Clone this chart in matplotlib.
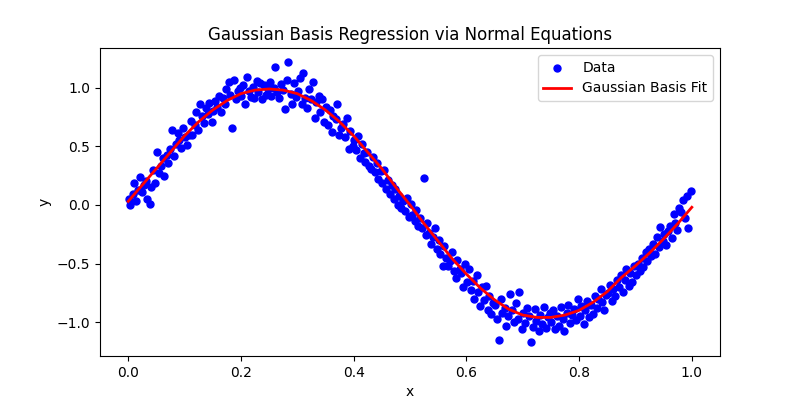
import numpy as np
import matplotlib
matplotlib.use("Agg")
import matplotlib.pyplot as plt

# noisy samples
x_data = [0.002, 0.004, 0.008, 0.011, 0.014, 0.018, 0.021, 0.025, 0.028, 0.031, 0.034, 0.038,
          0.041, 0.044, 0.048, 0.051, 0.054, 0.058, 0.061, 0.064, 0.068, 0.071, 0.074, 0.078,
          0.081, 0.084, 0.088, 0.091, 0.094, 0.098, 0.101, 0.104, 0.108, 0.111, 0.114, 0.118,
          0.121, 0.124, 0.128, 0.131, 0.134, 0.138, 0.141, 0.144, 0.148, 0.151, 0.154, 0.158,
          0.161, 0.164, 0.168, 0.171, 0.174, 0.178, 0.181, 0.184, 0.188, 0.191, 0.194, 0.198,
          0.201, 0.204, 0.208, 0.211, 0.214, 0.218, 0.221, 0.224, 0.228, 0.231, 0.234, 0.238,
          0.241, 0.244, 0.248, 0.251, 0.254, 0.258, 0.261, 0.264, 0.268, 0.271, 0.274, 0.278,
          0.281, 0.284, 0.288, 0.291, 0.294, 0.298, 0.301, 0.304, 0.308, 0.311, 0.314, 0.318,
          0.321, 0.324, 0.328, 0.331, 0.334, 0.338, 0.341, 0.344, 0.348, 0.351, 0.354, 0.358,
          0.361, 0.364, 0.368, 0.371, 0.374, 0.378, 0.381, 0.384, 0.388, 0.391, 0.394, 0.398,
          0.401, 0.404, 0.408, 0.411, 0.414, 0.418, 0.421, 0.424, 0.428, 0.431, 0.434, 0.438,
          0.441, 0.444, 0.448, 0.451, 0.454, 0.458, 0.461, 0.464, 0.468, 0.471, 0.474, 0.478,
          0.481, 0.484, 0.488, 0.491, 0.494, 0.498, 0.501, 0.504, 0.508, 0.511, 0.514, 0.518,
          0.521, 0.524, 0.528, 0.531, 0.534, 0.538, 0.541, 0.544, 0.548, 0.551, 0.554, 0.558,
          0.561, 0.564, 0.568, 0.571, 0.574, 0.578, 0.581, 0.584, 0.588, 0.591, 0.594, 0.598,
          0.601, 0.604, 0.608, 0.611, 0.614, 0.618, 0.621, 0.624, 0.628, 0.631, 0.634, 0.638,
          0.641, 0.644, 0.648, 0.651, 0.654, 0.658, 0.661, 0.664, 0.668, 0.671, 0.674, 0.678,
          0.681, 0.684, 0.688, 0.691, 0.694, 0.698, 0.701, 0.704, 0.708, 0.711, 0.714, 0.718,
          0.721, 0.724, 0.728, 0.731, 0.734, 0.738, 0.741, 0.744, 0.748, 0.751, 0.754, 0.758,
          0.761, 0.764, 0.768, 0.771, 0.774, 0.778, 0.781, 0.784, 0.788, 0.791, 0.794, 0.798,
          0.801, 0.804, 0.808, 0.811, 0.814, 0.818, 0.821, 0.824, 0.828, 0.831, 0.834, 0.838,
          0.841, 0.844, 0.848, 0.851, 0.854, 0.858, 0.861, 0.864, 0.868, 0.871, 0.874, 0.878,
          0.881, 0.884, 0.888, 0.891, 0.894, 0.898, 0.901, 0.904, 0.908, 0.911, 0.914, 0.918,
          0.921, 0.924, 0.928, 0.931, 0.934, 0.938, 0.941, 0.944, 0.948, 0.951, 0.954, 0.958,
          0.961, 0.964, 0.968, 0.971, 0.974, 0.978, 0.981, 0.984, 0.988, 0.991, 0.994, 0.998]
y_data = [0.05, 0.00, 0.09, 0.19, 0.03, 0.13, 0.24, 0.11, 0.17, 0.20, 0.05, 0.01,
          0.15, 0.30, 0.19, 0.45, 0.27, 0.33, 0.40, 0.25, 0.43, 0.36, 0.48, 0.64,
          0.42, 0.52, 0.61, 0.55, 0.49, 0.66, 0.58, 0.51, 0.60, 0.72, 0.60, 0.68,
          0.79, 0.64, 0.86, 0.76, 0.70, 0.83, 0.78, 0.87, 0.71, 0.80, 0.89, 0.84,
          0.93, 0.79, 0.91, 0.86, 0.99, 1.05, 0.94, 0.66, 1.07, 0.90, 0.97, 1.00,
          0.93, 1.02, 0.86, 1.09, 0.97, 0.92, 1.01, 0.91, 1.06, 0.96, 1.04, 0.90,
          1.02, 0.94, 0.99, 1.05, 0.93, 1.00, 1.18, 0.96, 0.91, 1.03, 0.98, 0.82,
          1.07, 1.22, 0.95, 0.86, 1.04, 0.92, 0.97, 1.08, 0.86, 1.13, 0.91, 0.83,
          0.99, 0.90, 1.05, 0.74, 0.88, 0.93, 0.79, 0.90, 0.71, 0.84, 0.68, 0.81,
          0.62, 0.76, 0.73, 0.86, 0.60, 0.66, 0.69, 0.58, 0.74, 0.48, 0.63, 0.50,
          0.55, 0.47, 0.59, 0.40, 0.52, 0.44, 0.37, 0.45, 0.33, 0.31, 0.41, 0.28,
          0.36, 0.22, 0.29, 0.19, 0.30, 0.14, 0.21, 0.09, 0.17, 0.05, 0.14, 0.00,
          0.08, -0.03, 0.03, -0.05, 0.06, -0.10, 0.01, -0.09, -0.14, -0.04, -0.18, -0.11,
          -0.20, 0.23, -0.26, -0.15, -0.24, -0.33, -0.27, -0.20, -0.38, -0.30, -0.42, -0.52,
          -0.35, -0.45, -0.52, -0.48, -0.40, -0.56, -0.62, -0.47, -0.55, -0.58, -0.70, -0.50,
          -0.66, -0.55, -0.73, -0.65, -0.80, -0.60, -0.74, -0.86, -0.70, -0.81, -0.69, -0.90,
          -0.78, -0.93, -0.84, -0.85, -0.97, -1.15, -0.80, -0.92, -0.88, -1.03, -0.95, -0.76,
          -0.90, -1.00, -0.84, -0.97, -0.74, -1.06, -0.92, -1.01, -0.88, -0.95, -1.17, -1.04,
          -0.89, -0.99, -1.08, -0.94, -1.02, -0.87, -1.05, -0.96, -0.92, -1.00, -0.90, -1.06,
          -0.95, -1.03, -0.87, -0.97, -1.08, -0.92, -0.85, -1.01, -0.94, -0.89, -0.98, -0.80,
          -0.95, -0.86, -1.02, -0.90, -0.82, -0.96, -0.85, -0.93, -0.78, -0.88, -0.80, -0.72,
          -0.83, -0.90, -0.77, -0.75, -0.68, -0.82, -0.72, -0.78, -0.64, -0.70, -0.60, -0.74,
          -0.64, -0.55, -0.69, -0.58, -0.66, -0.52, -0.60, -0.50, -0.56, -0.45, -0.53, -0.40,
          -0.48, -0.38, -0.44, -0.33, -0.42, -0.27, -0.36, -0.19, -0.31, -0.25, -0.34, -0.22,
          -0.18, -0.28, -0.08, -0.15, -0.21, -0.03, -0.06, 0.04, -0.11, 0.08, -0.20, 0.12]

# fitted curve, sampled off the red line
x_fit = [0.0, 0.025, 0.05, 0.075, 0.1, 0.125, 0.15, 0.175, 0.2, 0.225, 0.25, 0.275, 0.3,
         0.325, 0.35, 0.375, 0.4, 0.425, 0.45, 0.475, 0.5, 0.525, 0.55, 0.575, 0.6, 0.625,
         0.65, 0.675, 0.7, 0.725, 0.75, 0.775, 0.8, 0.825, 0.85, 0.875, 0.9, 0.925, 0.95,
         0.975, 1.0]
y_fit = [0.03, 0.17, 0.31, 0.45, 0.59, 0.71, 0.81, 0.89, 0.95, 0.98, 0.99, 0.98, 0.95,
         0.89, 0.81, 0.71, 0.59, 0.45, 0.31, 0.15, 0.00, -0.16, -0.31, -0.46, -0.59, -0.71,
         -0.81, -0.89, -0.94, -0.96, -0.96, -0.94, -0.90, -0.83, -0.74, -0.62, -0.52, -0.41,
         -0.29, -0.16, -0.02]

fig, ax = plt.subplots(figsize=(8, 4), dpi=100)
ax.scatter(x_data, y_data, color='blue', s=25, label='Data')
ax.plot(x_fit, y_fit, color='red', lw=2, label='Gaussian Basis Fit')
ax.set_title('Gaussian Basis Regression via Normal Equations')
ax.set_xlabel('x')
ax.set_ylabel('y')
ax.legend(loc='upper right')
plt.savefig('out.png')
